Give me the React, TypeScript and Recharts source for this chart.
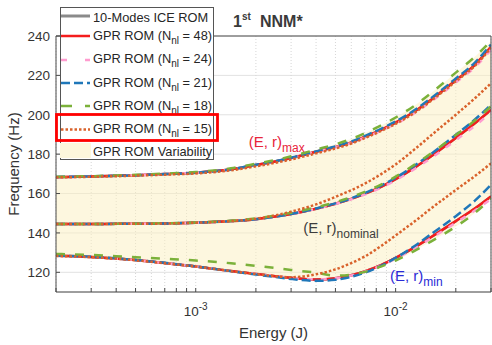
import React from "react";
import {
  ComposedChart,
  Line,
  Area,
  XAxis,
  YAxis,
  CartesianGrid,
  Legend,
  ReferenceDot,
} from "recharts";

const FONT = '"Liberation Sans", Arial, Helvetica, sans-serif';
const TEXT = "#333333";
const AXIS = "#4a4a4a";

// energy samples (J)
const energy = [
  2e-4, 3e-4, 4e-4, 5e-4, 7e-4, 1e-3, 1.5e-3, 2e-3, 2.5e-3, 3e-3, 4e-3, 5e-3,
  6e-3, 7e-3, 8.5e-3, 1e-2, 1.25e-2, 1.5e-2, 2e-2, 2.5e-2, 3e-2,
];

// GPR ROM, N_nl = 48 (10-Modes ICE ROM sits right under it)
const n48Max = [168.3, 168.6, 169.0, 169.3, 169.9, 170.6, 172.3, 174.5, 176.3, 178.0, 181.2, 183.6, 186.0, 188.8, 192.5, 196.0, 201.8, 207.5, 217.5, 225.5, 234.5];
const n48Nom = [144.5, 144.5, 144.6, 144.6, 144.8, 145.2, 146.0, 147.0, 148.3, 149.6, 152.3, 154.8, 157.3, 159.8, 163.5, 167.3, 173.3, 178.8, 188.2, 195.8, 202.5];
const n48Min = [128.4, 127.8, 127.0, 126.2, 124.7, 123.0, 120.7, 119.2, 118.0, 117.2, 116.4, 117.0, 118.5, 120.5, 123.8, 127.3, 132.8, 137.8, 146.0, 152.5, 158.5];

const n24Max = [168.3, 168.6, 169.0, 169.3, 169.9, 170.6, 172.3, 174.5, 176.3, 178.0, 181.1, 183.4, 185.7, 188.4, 192.0, 195.4, 201.0, 206.6, 216.4, 224.3, 233.0];
const n24Nom = [144.5, 144.5, 144.6, 144.6, 144.8, 145.2, 146.0, 147.0, 148.3, 149.6, 152.3, 154.7, 157.1, 159.5, 163.1, 166.8, 172.6, 177.9, 187.1, 194.5, 201.2];
const n24Min = [128.4, 127.8, 127.0, 126.2, 124.7, 123.0, 120.7, 119.2, 118.0, 117.2, 116.4, 117.0, 118.4, 120.3, 123.5, 126.9, 132.3, 137.2, 145.2, 151.5, 157.2];

const n21Max = [168.4, 168.7, 169.0, 169.3, 169.9, 170.6, 172.3, 174.6, 176.4, 178.2, 181.4, 183.9, 186.4, 189.2, 193.0, 196.6, 202.5, 208.3, 218.4, 226.6, 235.7];
const n21Nom = [144.5, 144.5, 144.6, 144.6, 144.8, 145.2, 146.0, 147.0, 148.3, 149.6, 152.4, 155.0, 157.6, 160.2, 164.1, 168.0, 174.3, 180.0, 189.8, 197.7, 205.0];
const n21Min = [128.5, 127.9, 127.1, 126.3, 124.8, 123.0, 120.6, 118.9, 117.6, 116.6, 115.7, 116.2, 117.7, 119.8, 123.4, 127.3, 133.5, 139.3, 148.5, 156.5, 164.5];

const n18Max = [168.5, 168.8, 169.2, 169.5, 170.1, 170.9, 172.8, 175.1, 177.0, 178.9, 182.3, 185.0, 187.7, 190.6, 194.7, 198.6, 204.8, 210.9, 221.4, 229.6, 237.5];
const n18Nom = [144.5, 144.5, 144.6, 144.7, 144.9, 145.3, 146.2, 147.4, 148.8, 150.2, 153.0, 155.6, 158.2, 160.8, 164.7, 168.6, 174.8, 180.3, 189.7, 197.2, 204.3];
const n18Min = [129.3, 128.8, 128.2, 127.7, 126.9, 126.0, 124.6, 123.3, 122.2, 121.2, 119.8, 118.3, 118.8, 120.2, 123.0, 126.0, 131.0, 135.6, 143.2, 150.3, 157.5];

const n15Max = [168.2, 168.5, 168.8, 169.1, 169.6, 170.2, 171.8, 173.8, 175.6, 177.3, 180.4, 182.9, 185.4, 188.1, 191.9, 195.4, 201.2, 207.0, 217.0, 225.0, 234.0];
const n15Nom = [144.5, 144.5, 144.6, 144.6, 144.8, 145.2, 146.0, 147.2, 148.9, 150.8, 154.5, 158.3, 161.7, 165.0, 170.0, 174.8, 182.6, 189.4, 200.0, 208.5, 216.0];
const n15Min = [128.3, 127.7, 126.9, 126.1, 124.6, 122.9, 120.6, 119.1, 118.0, 117.5, 119.0, 121.5, 124.7, 128.0, 133.5, 138.7, 146.0, 152.3, 161.8, 169.0, 175.3];

const xTicks = [
  2e-4, 3e-4, 4e-4, 5e-4, 6e-4, 7e-4, 8e-4, 9e-4, 1e-3, 2e-3, 3e-3, 4e-3, 5e-3,
  6e-3, 7e-3, 8e-3, 9e-3, 1e-2, 2e-2, 3e-2,
];
const xMajor = [1e-3, 1e-2];
const yTicks = [120, 140, 160, 180, 200, 220, 240];

const series = [
  { key: "ice", label: "10-Modes ICE ROM", nnl: null, color: "#8a8a8a", width: 2.5, dash: undefined, max: n48Max, nom: n48Nom, min: n48Min },
  { key: "n48", label: "GPR ROM", nnl: 48, color: "#f41d1d", width: 2.5, dash: undefined, max: n48Max, nom: n48Nom, min: n48Min },
  { key: "n24", label: "GPR ROM", nnl: 24, color: "#ff9ccf", width: 2.5, dash: "6 8", max: n24Max, nom: n24Nom, min: n24Min },
  { key: "n21", label: "GPR ROM", nnl: 21, color: "#1f77b9", width: 2.5, dash: "9 4", max: n21Max, nom: n21Nom, min: n21Min },
  { key: "n18", label: "GPR ROM", nnl: 18, color: "#7bb13a", width: 2.5, dash: "9 10", max: n18Max, nom: n18Nom, min: n18Min },
  { key: "n15", label: "GPR ROM", nnl: 15, color: "#d9622b", width: 2.5, dash: "2.5 2", max: n15Max, nom: n15Nom, min: n15Min },
];

const groups = ["max", "nom", "min"] as const;

const data = energy.map((e, i) => {
  const row: Record<string, any> = { e };
  series.forEach((s) => {
    groups.forEach((g) => {
      row[`${s.key}_${g}`] = s[g][i];
    });
  });
  const low = Math.min(...series.map((s) => s.min[i]));
  const high = Math.max(...series.map((s) => s.max[i]));
  row.band = [low, high];
  return row;
});

const annotations = [
  { e: 1.84e-3, f: 183.6, main: "(E, r)", sub: "max", color: "#e8253b" },
  { e: 3.45e-3, f: 140.0, main: "(E, r)", sub: "nominal", color: "#3c3c3c" },
  { e: 9.37e-3, f: 115.6, main: "(E, r)", sub: "min", color: "#2a2ad6" },
];

// legend row layout (page px)
const legendLineY = [16, 36, 60, 83, 106, 129.5];
const legendTextY = [22, 39.5, 63, 86.5, 110, 133];

function EnergyTick(props: any) {
  const { x, y, payload } = props;
  const v = payload.value;
  if (!xMajor.some((m) => Math.abs(m - v) / m < 1e-6)) return null;
  const exp = Math.round(Math.log10(v));
  return (
    <text x={x - 12} y={y + 20} fontSize={13.5} fill={TEXT} fontFamily={FONT}>
      <tspan>10</tspan>
      <tspan dy={-6} fontSize={10}>
        {exp}
      </tspan>
    </text>
  );
}

function annotationLabel(a: (typeof annotations)[number]) {
  return (props: any) => {
    const vb = props.viewBox || {};
    const x = vb.x + (vb.width || 0) / 2;
    const y = vb.y + (vb.height || 0) / 2;
    return (
      <text x={x} y={y} fill={a.color} fontSize={15} fontFamily={FONT}>
        <tspan>{a.main}</tspan>
        <tspan dy={5} fontSize={12}>
          {a.sub}
        </tspan>
      </text>
    );
  };
}

function YTitle(props: any) {
  const vb = props.viewBox;
  const x = vb.x + 18.5;
  const y = vb.y + vb.height / 2;
  return (
    <text
      x={x}
      y={y}
      transform={`rotate(-90 ${x} ${y})`}
      textAnchor="middle"
      fontSize={15}
      fill={TEXT}
      fontFamily={FONT}
    >
      Frequency (Hz)
    </text>
  );
}

function XTitle(props: any) {
  const vb = props.viewBox;
  return (
    <text
      x={vb.x + vb.width / 2}
      y={vb.y + 46}
      textAnchor="middle"
      fontSize={15}
      fill={TEXT}
      fontFamily={FONT}
    >
      Energy (J)
    </text>
  );
}

function LegendBox() {
  return (
    <svg width={230} height={170} style={{ display: "block" }}>
      <rect x={60.5} y={7.5} width={153} height={152} fill="#ffffff" stroke="#555" strokeWidth={1} />
      {series.map((s, i) => (
        <g key={s.key}>
          <line
            x1={61}
            x2={90}
            y1={legendLineY[i]}
            y2={legendLineY[i]}
            stroke={s.color}
            strokeWidth={s.key === "ice" ? 3 : 2.5}
            strokeDasharray={s.key === "n24" ? "6 18" : s.key === "n18" ? "11 13" : s.dash}
          />
          <text x={93} y={legendTextY[i]} fontSize={12.8} fill="#262626" fontFamily={FONT}>
            {s.nnl === null ? (
              s.label
            ) : (
              <>
                <tspan>{`${s.label} (N`}</tspan>
                <tspan dy={4} fontSize={10}>
                  nl
                </tspan>
                <tspan dy={-4}>{` = ${s.nnl})`}</tspan>
              </>
            )}
          </text>
        </g>
      ))}
      <rect x={60} y={143} width={31} height={15} fill="#fdf7dc" />
      <text x={93} y={156} fontSize={12.8} fill="#262626" fontFamily={FONT}>
        GPR ROM Variability
      </text>
      <rect x={56.5} y={114.5} width={161} height={26} fill="none" stroke="#ff0000" strokeWidth={2.8} />
    </svg>
  );
}

export default function App() {
  return (
    <div style={{ position: "absolute", left: 0, top: 0, width: 492, height: 345, background: "#fff", fontFamily: FONT }}>
      <ComposedChart
        width={492}
        height={345}
        data={data}
        margin={{ top: 35, right: 0, bottom: 0, left: 0 }}
      >
        <CartesianGrid horizontal vertical={false} stroke="#e2e2e2" />
        <CartesianGrid horizontal={false} vertical stroke="#d6d6d6" strokeDasharray="1 2" />
        <XAxis
          dataKey="e"
          type="number"
          scale="log"
          domain={[2e-4, 3e-2]}
          allowDataOverflow
          ticks={xTicks}
          interval={0}
          height={53}
          tickSize={-4}
          tickMargin={8}
          stroke={AXIS}
          tick={<EnergyTick />}
          label={XTitle}
        />
        <XAxis
          xAxisId="top"
          orientation="top"
          dataKey="e"
          type="number"
          scale="log"
          domain={[2e-4, 3e-2]}
          allowDataOverflow
          ticks={xTicks}
          interval={0}
          height={1}
          tickSize={-4}
          tick={false}
          stroke={AXIS}
        />
        <YAxis
          type="number"
          domain={[110, 240]}
          allowDataOverflow
          ticks={yTicks}
          interval={0}
          width={56}
          tickSize={-4}
          tickMargin={10}
          stroke={AXIS}
          tick={{ fontSize: 13.5, fill: TEXT, fontFamily: FONT }}
          label={YTitle}
        />
        <YAxis
          yAxisId="right"
          orientation="right"
          type="number"
          domain={[110, 240]}
          allowDataOverflow
          ticks={yTicks}
          interval={0}
          width={1}
          tickSize={-4}
          tick={false}
          stroke={AXIS}
        />
        <Area
          dataKey="band"
          type="monotone"
          stroke="none"
          fill="#fbefbf"
          fillOpacity={0.5}
          isAnimationActive={false}
          legendType="none"
        />
        {series.map((s) =>
          groups.map((g) => (
            <Line
              key={`${s.key}_${g}`}
              dataKey={`${s.key}_${g}`}
              type="monotone"
              stroke={s.color}
              strokeWidth={s.width}
              strokeDasharray={s.dash}
              dot={false}
              activeDot={false}
              isAnimationActive={false}
              legendType="none"
            />
          ))
        )}
        {annotations.map((a) => (
          <ReferenceDot
            key={a.sub}
            x={a.e}
            y={a.f}
            r={1}
            fill="none"
            stroke="none"
            label={annotationLabel(a)}
          />
        ))}
        <Legend
          layout="horizontal"
          verticalAlign="middle"
          align="center"
          content={() => <LegendBox />}
          wrapperStyle={{ position: "absolute", left: 0, top: 0, width: 230, height: 170 }}
        />
      </ComposedChart>
      <div style={{ position: "absolute", left: 0, top: 0, pointerEvents: "none" }}>
        <svg width={340} height={34} style={{ display: "block" }}>
          <text y={26.5} fontSize={16} fontWeight="bold" fill="#3a3a3a" fontFamily={FONT}>
            <tspan x={233}>1</tspan>
            <tspan dy={-7} fontSize={10}>st</tspan>
            <tspan x={260} dy={7}>NNM*</tspan>
          </text>
        </svg>
      </div>
    </div>
  );
}
